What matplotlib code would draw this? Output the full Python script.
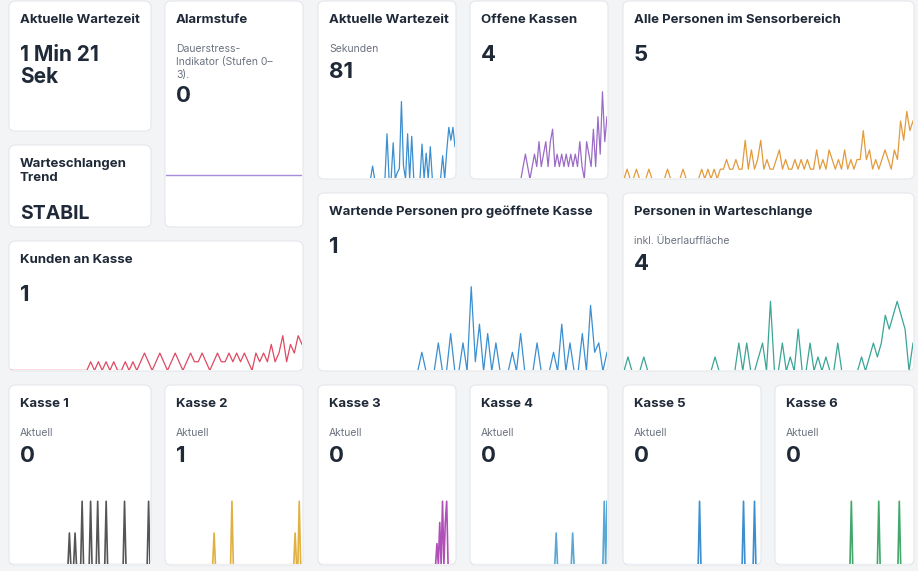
import matplotlib
matplotlib.use("Agg")
import matplotlib.pyplot as plt
from matplotlib.patches import FancyBboxPatch

plt.rcParams['font.family'] = ['Inter', 'DejaVu Sans']

W, H = 918, 571

# ---- data ----
wait_sec = [0]*26 + [10,0,0,0,0,0,0,35,0,0,28,0,5,8,60,10,0,35,0,33,0,0,0,0,27,0,20,0,25,0,0,0,0,0,18,0,22,40,30,40,25]
open_kassen = [0]*22 + [0,1,2,1,0,1,2,1,3,1,2,3,1,3,4,1,2,1,2,1,2,1,2,1,2,1,3,1,0,3,2,1,4,1,5,2,7,3,5]
sensor_persons = [0,1,0,0,1,0,0,0,1,0,0,0,0,0,1,0,0,0,0,1,0,0,0,0,0,1,0,1,0,1,0,1,1,2,1,1,2,1,1,4,1,3,1,2,4,1,2,1,1,2,3,1,2,1,1,2,1,2,1,2,1,1,3,1,2,1,3,2,1,2,1,3,1,2,1,2,2,5,2,3,1,2,1,2,3,2,1,3,2,6,4,7,5,6]
kunden_kasse = [0]*20 + [0,1,0,1,0,1,0,1,0,0,1,0,1,0,1,2,1,0,1,2,1,0,1,2,1,0,1,2,1,1,2,1,0,1,2,1,1,2,1,2,1,2,1,0,2,1,2,1,3,1,2,4,1,3,2,4,3]
wartende = [0]*24 + [0,2,0,0,0,3,0,0,4,0,0,3,0,9,1,5,0,4,0,3,0,0,0,2,0,4,0,0,0,3,0,0,0,2,0,5,0,3,0,0,4,0,7,2,3,0,2]
warteschlange = [0,1,0,0,0,1,0,0,0,0,0,0,0,0,0,0,0,0,0,0,0,0,0,1,0,0,0,0,0,2,0,2,0,0,1,2,0,5,0,0,2,0,1,0,3,0,0,2,0,1,0,1,0,0,2,0,0,0,0,0,1,0,1,2,1,2,4,3,4,5,4,3,0,2]
kasse1 = [0]*42 + [1,0,0,0,1,0,0,0,0,2,0,0,0,0,0,2,0,0,0,0,2,0,0,0,0,0,2,0,0,0,0,0,0,0,0,0,0,0,0,2,0,0,0,0,0,0,0,0,0,0,0,0,0,0,0,0,2,0]
kasse2 = [0]*35 + [1,0,0,0,0,0,0,0,0,0,0,0,0,2,0,0,0,0,0,0,0,0,0,0,0,0,0,0,0,0,0,0,0,0,0,0,0,0,0,0,0,0,0,0,0,0,0,0,0,0,0,0,0,0,0,0,0,0,0,1,0,0,2,0,0]
kasse3 = [0]*84 + [0,1,0,2,0,3,0,2,3,0,0,0,0,0,0]
kasse4 = [0]*62 + [1,0,0,0,0,0,0,0,0,0,0,0,1,0,0,0,0,0,0,0,0,0,0,0,0,0,0,0,0,0,0,0,0,0,0,2,0,2]
kasse5 = [0]*55 + [3,0,0,0,0,0,0,0,0,0,0,0,0,0,0,0,0,0,0,0,0,0,0,0,0,0,0,0,0,0,0,0,3,0,0,0,0,0,0,0,3,0,0,0,0]
kasse6 = [0]*55 + [2,0,0,0,0,0,0,0,0,0,0,0,0,0,0,0,0,0,0,0,2,0,0,0,0,0,0,0,0,0,0,0,0,0,0,2,0,0,0,0,0,0,0,0,0,0]
alarm = [0]*60

BG = '#f3f4f6'
fig = plt.figure(figsize=(W/100, H/100), dpi=100, facecolor=BG)

def fx(x): return x / W
def fy(y): return 1 - y / H

def card(x0, y0, x1, y1, title, sub=None, value=None, series=None, color=None,
         chart_top=None, value_size=16, ylim=None, lw=0.9):
    bg = fig.add_axes([fx(x0), fy(y1), fx(x1 - x0), (y1 - y0) / H])
    bg.set_xlim(0, x1 - x0); bg.set_ylim(y1 - y0, 0); bg.axis('off')
    bg.add_patch(FancyBboxPatch((1, 1), x1 - x0 - 2, y1 - y0 - 2,
                                boxstyle="round,pad=0,rounding_size=6",
                                fc='white', ec='#e5e7eb', lw=0.8))
    bg.text(12, 14, title, fontsize=9.5, fontweight='bold', color='#1f2937', va='top')
    if sub:
        bg.text(12, 44, sub, fontsize=7.5, color='#6b7280', va='top', linespacing=1.35)
        vy = 62 + 12 * (sub.count('\n'))
    else:
        vy = 45
    if value is not None:
        bg.text(12, vy, value, fontsize=value_size, fontweight='bold',
                color='#1f2937', va='top', linespacing=1.1)
    if series is not None:
        ax = fig.add_axes([fx(x0 + 2), fy(y1 - 2), fx(x1 - x0 - 4), (y1 - 2 - chart_top) / H])
        ax.plot(range(len(series)), series, color=color, lw=lw)
        ax.set_xlim(0, len(series) - 1)
        if ylim is None:
            m = max(series) * 1.02
            ylim = (m * 0.012, m)
        ax.set_ylim(*ylim)
        ax.axis('off')

card(8, 0, 152, 132, 'Aktuelle Wartezeit', value='1 Min 21\nSek', value_size=15)
card(8, 144, 152, 228, 'Warteschlangen\nTrend')
fig.text(fx(20), fy(214), 'STABIL', fontsize=14, fontweight='bold', color='#1f2937', va='center')
card(164, 0, 304, 228, 'Alarmstufe', sub='Dauerstress-\nIndikator (Stufen 0–\n3).', value='0',
     series=alarm, color='#a78bdb', chart_top=100, ylim=(-0.68, 1.0), lw=1.0)
card(317, 0, 457, 180, 'Aktuelle Wartezeit', sub='Sekunden', value='81',
     series=wait_sec, color='#3b8fd0', chart_top=100)
card(469, 0, 609, 180, 'Offene Kassen', value='4',
     series=open_kassen, color='#9b6bc6', chart_top=90)
card(622, 0, 915, 180, 'Alle Personen im Sensorbereich', value='5',
     series=sensor_persons, color='#e39a3c', chart_top=110)
card(8, 240, 304, 372, 'Kunden an Kasse', value='1',
     series=kunden_kasse, color='#de4a63', chart_top=335)
card(317, 192, 609, 372, 'Wartende Personen pro geöffnete Kasse', value='1',
     series=wartende, color='#3b8fd0', chart_top=285)
card(622, 192, 915, 372, 'Personen in Warteschlange', sub='inkl. Überlauffläche', value='4',
     series=warteschlange, color='#3aa595', chart_top=300)

kx = [(8, 152), (164, 304), (317, 457), (469, 609), (622, 762), (774, 915)]
kdata = [kasse1, kasse2, kasse3, kasse4, kasse5, kasse6]
kvals = ['0', '1', '0', '0', '0', '0']
kcol = ['#555555', '#e0b040', '#b04fb8', '#5aa7d6', '#3b8fd0', '#3fa86a']
for i, ((a, b), d, v, c) in enumerate(zip(kx, kdata, kvals, kcol)):
    card(a, 384, b, 566, f'Kasse {i+1}', sub='Aktuell', value=v,
         series=d, color=c, chart_top=500, lw=1.2)

fig.savefig('out.png', dpi=100, facecolor=BG)
